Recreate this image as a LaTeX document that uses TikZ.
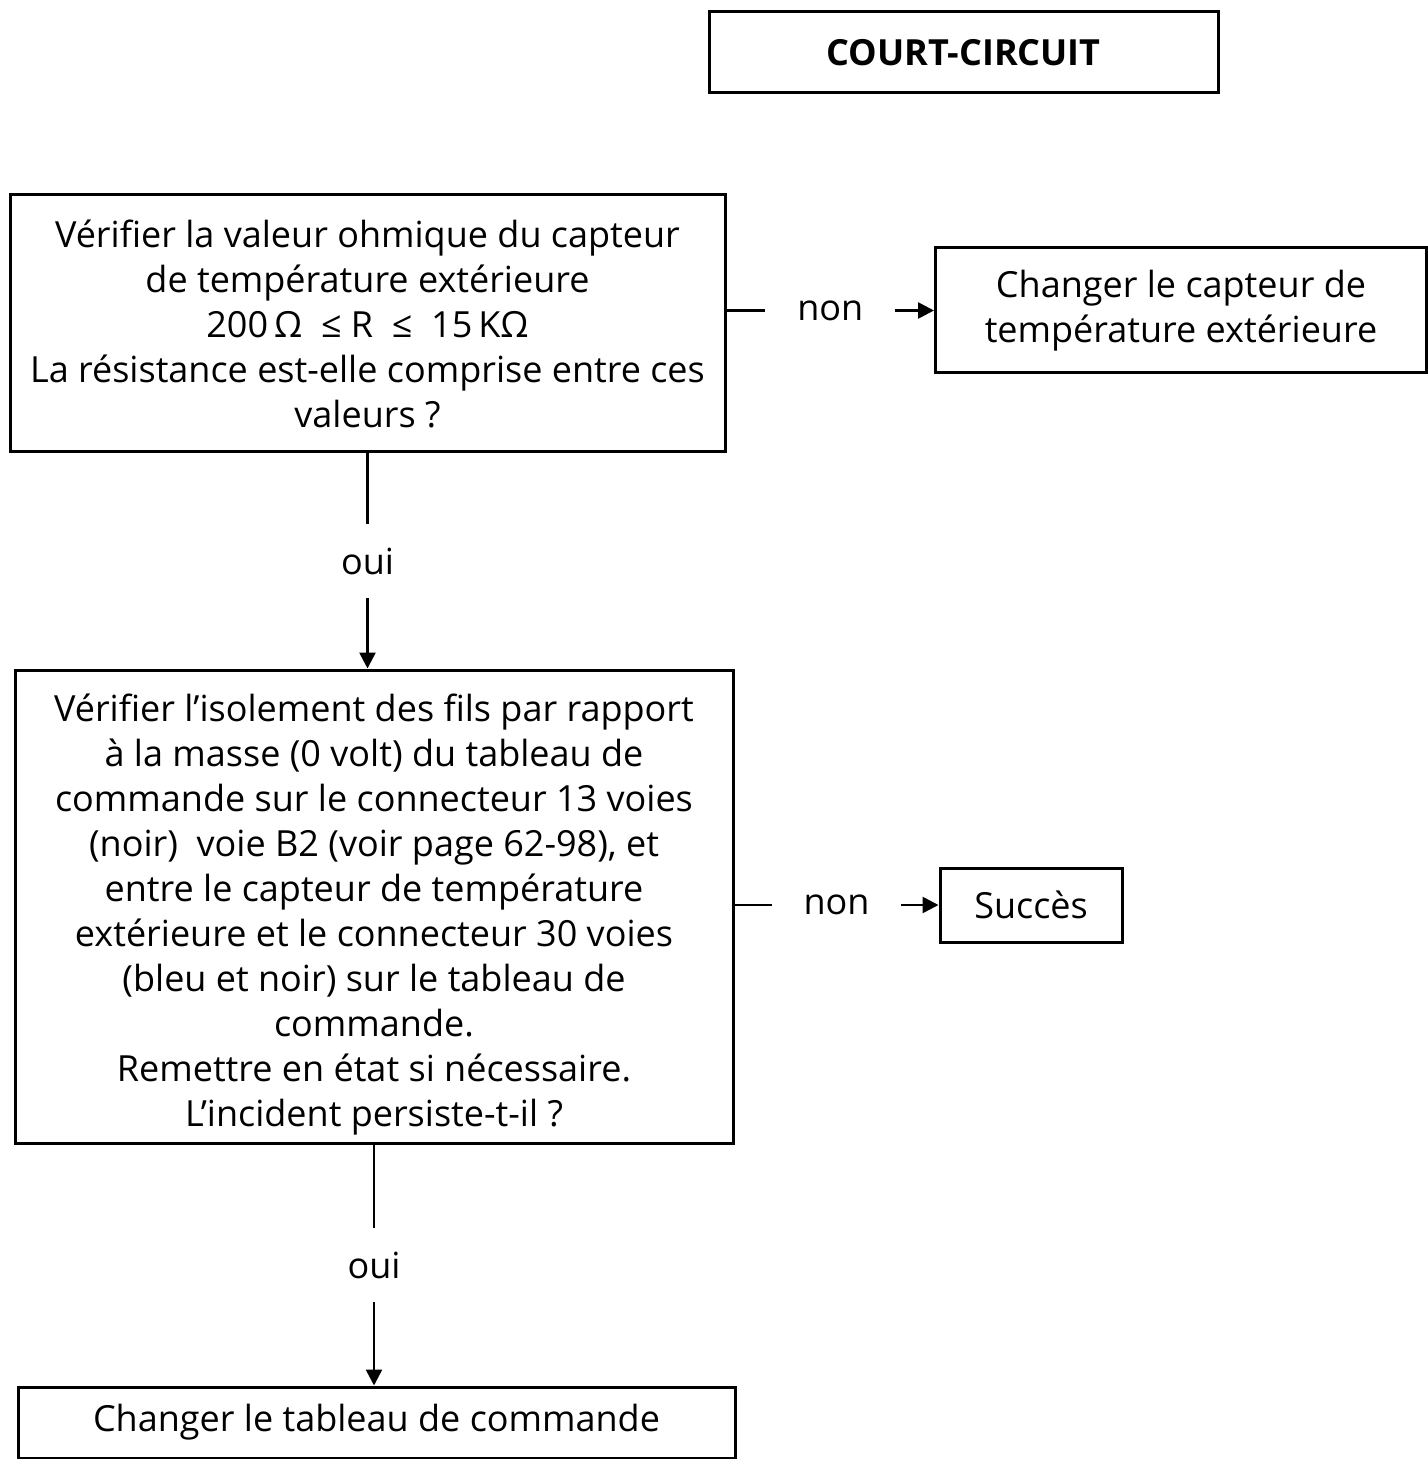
\documentclass[tikz,border=0pt]{standalone}
\usepackage{fontspec}
\setmainfont{Open Sans}
\usetikzlibrary{arrows.meta}
\begin{document}
\begin{tikzpicture}[x=0.5pt,y=-0.5pt,
  box/.style={draw,line width=1.5pt,align=center,inner sep=0pt,
              font=\fontsize{18}{22.5}\selectfont},
  boxtext/.style={align=center,inner sep=0pt,font=\fontsize{18}{22.5}\selectfont},
  flow/.style={line width=1.3pt,-{Triangle[length=8pt,width=8pt]}},
  answer/.style={fill=white,inner xsep=16pt,inner ysep=12pt,font=\fontsize{18}{20}\selectfont}]
\useasboundingbox[fill=white] (0,0) rectangle (1427,1459);

% boxes (sizes in pt, half of the pixel grid used for positions)
\node[box,minimum width=254.5pt,minimum height=40.5pt,font=\fontsize{18}{20}\selectfont\bfseries]
  (title) at (963.5,52.5) {COURT-CIRCUIT};

\node[box,minimum width=357.5pt,minimum height=128.5pt] (b1) at (367.5,323.5)
  {Vérifier la valeur ohmique du capteur\\
   de température extérieure\\
   200\,Ω\ \ ≤ R\ \ ≤\ \ 15\,KΩ\\
   La résistance est-elle comprise entre ces\\
   valeurs ?};

\node[box,minimum width=245.5pt,minimum height=62.5pt] (b2) at (1181,310.5)
  {Changer le capteur de\\température extérieure};

% the tall check box: frame, then its text set slightly low
\node[box,minimum width=359pt,minimum height=236.5pt] (b3) at (374,906.5) {};
\node[boxtext] (b3text) at ([yshift=-4pt]b3.center)
  {Vérifier l'isolement des fils par rapport\\
   à la masse (0 volt) du tableau de\\
   commande sur le connecteur 13 voies\\
   (noir)\ \ voie B2 (voir page 62-98), et\\
   entre le capteur de température\\
   extérieure et le connecteur 30 voies\\
   (bleu et noir) sur le tableau de\\
   commande.\\
   Remettre en état si nécessaire.\\
   L'incident persiste-t-il ?};

\node[box,minimum width=91pt,minimum height=37pt] (ok) at (1031,905) {Succès};

\node[box,minimum width=358.5pt,minimum height=35.5pt] (b4) at (376.5,1422.5)
  {Changer le tableau de commande};

% connectors
\draw[flow] (b1.east |- b2.west) -- node[answer]{non} (b2.west);
\draw[flow] (b3.east |- ok.west) -- node[answer]{non} (ok.west);
\draw[flow] (b1.south) -- node[answer]{oui} (b1.south |- b3.north);
\draw[flow] (b3.south) -- node[answer]{oui} (b3.south |- b4.north);
\end{tikzpicture}
\end{document}
